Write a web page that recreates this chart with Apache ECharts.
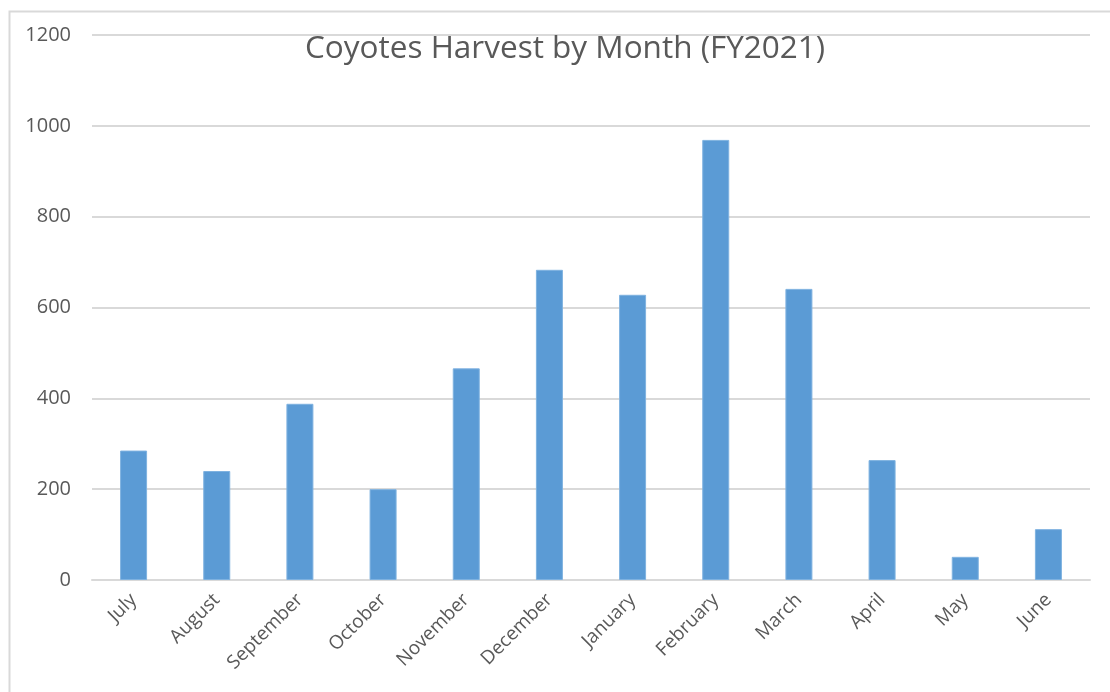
<!DOCTYPE html>
<html>
<head>
<meta charset="utf-8">
<script src="https://cdn.jsdelivr.net/npm/echarts@6/dist/echarts.min.js"></script>
<style>html,body{margin:0;padding:0;background:#fff;}#c{width:1110px;height:692px;}</style>
</head>
<body>
<div id="c"></div>
<script>
const categories = ['July','August','September','October','November','December','January','February','March','April','May','June'];
const harvest = [285, 240, 388, 200, 466, 683, 628, 969, 641, 264, 51, 112];
const yTicks = [0, 200, 400, 600, 800, 1000, 1200];

const chart = echarts.init(document.getElementById('c'));
chart.setOption({
  animation: false,
  backgroundColor: '#ffffff',
  graphic: [{
    type: 'rect', left: 7, top: 9,
    shape: { width: 1120, height: 700 },
    style: { fill: 'none', stroke: '#d9d9d9', lineWidth: 2 },
    silent: true
  }],
  title: {
    text: 'Coyotes Harvest by Month (FY2021)',
    left: 300, top: 28,
    textStyle: { fontFamily: 'Open Sans', fontSize: 31.5, fontWeight: 'normal', color: '#595959' }
  },
  grid: { left: 92, right: 20, top: 35, bottom: 112, containLabel: false },
  xAxis: {
    type: 'category',
    data: categories,
    axisLine: { lineStyle: { color: '#d9d9d9', width: 2 } },
    axisTick: { show: false },
    axisLabel: { rotate: 45, fontFamily: 'Open Sans', fontSize: 19, color: '#595959', margin: 17, interval: 0 }
  },
  yAxis: {
    type: 'value', min: 0, max: 1200, interval: 200,
    axisLine: { show: false },
    axisTick: { show: false },
    splitLine: { lineStyle: { color: '#d9d9d9', width: 2 } },
    axisLabel: { fontFamily: 'Open Sans', fontSize: 20, color: '#595959', margin: 21,
      formatter: v => yTicks.includes(v) ? String(v) : '' }
  },
  series: [{
    type: 'bar',
    data: harvest,
    barWidth: 27,
    itemStyle: { color: '#5B9BD5', borderColor: '#7fb2e0', borderWidth: 1 }
  }]
});
</script>
</body>
</html>
